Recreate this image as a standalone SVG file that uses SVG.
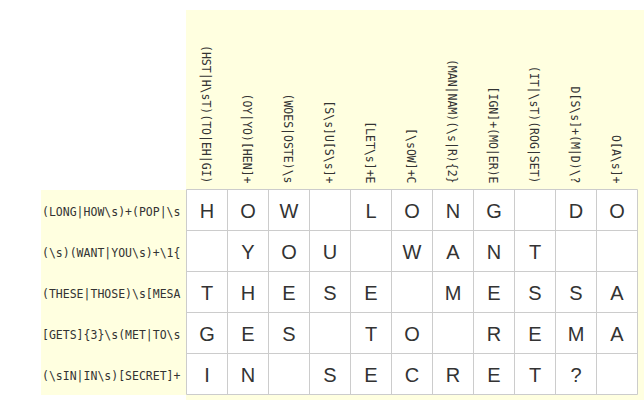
<svg xmlns="http://www.w3.org/2000/svg" width="644" height="400" viewBox="0 0 644 400">
<style>
.bg{fill:#ffffe0}
.cell{fill:#fff;stroke:#ccc;stroke-width:1}
.hd{font-family:"DejaVu Sans Mono","Liberation Mono",monospace;font-size:11.5px;fill:#333}
.ch{text-anchor:end}
.lt{font-family:"Liberation Sans",Arial,sans-serif;font-size:20px;fill:#333;text-anchor:middle}
</style>
<rect width="644" height="400" fill="#fff"/>
<rect class="bg" x="186" y="10" width="458" height="390"/>
<rect class="bg" x="41" y="190" width="145" height="205"/>
<g id="column-headers" class="hd ch">
<text transform="translate(201.5,183.5) rotate(90)">(HST|H\sT)(TO|EH|GI)</text>
<text transform="translate(242.5,183.5) rotate(90)">(OY|YO)[HEN]+</text>
<text transform="translate(283.5,183.5) rotate(90)">(WOES|OSTE)\s</text>
<text transform="translate(324.5,183.5) rotate(90)">[S\s]U[S\s]+</text>
<text transform="translate(365.5,183.5) rotate(90)">[LET\s]+E</text>
<text transform="translate(406.5,183.5) rotate(90)">[\sOW]+C</text>
<text transform="translate(447.5,183.5) rotate(90)">(MAN|NAM)(\s|R){2}</text>
<text transform="translate(488.5,183.5) rotate(90)">[IGN]+(MO|ER)E</text>
<text transform="translate(529.5,183.5) rotate(90)">(IT|\sT)(ROG|SET)</text>
<text transform="translate(570.5,183.5) rotate(90)">D[S\s]+(M|D)\?</text>
<text transform="translate(611.5,183.5) rotate(90)">O[A\s]+</text>
</g>
<g id="row-headers" class="hd">
<text x="42" y="215.5">(LONG|HOW\s)+(POP|\s</text>
<text x="42" y="256.5">(\s)(WANT|YOU\s)+\1{</text>
<text x="42" y="297.5">(THESE|THOSE)\s[MESA</text>
<text x="42" y="338.5">[GETS]{3}\s(MET|TO\s</text>
<text x="42" y="379.5">(\sIN|IN\s)[SECRET]+</text>
</g>
<g id="grid">
<path d="M186.5 189.5H637.5V394.5H186.5Z M186.5 230.5H637.5 M186.5 271.5H637.5 M186.5 312.5H637.5 M186.5 353.5H637.5" fill="#fff" stroke="#ccc"/>
<path d="M227.5 189.5V394.5 M268.5 189.5V394.5 M309.5 189.5V394.5 M350.5 189.5V394.5 M391.5 189.5V394.5 M432.5 189.5V394.5 M473.5 189.5V394.5 M514.5 189.5V394.5 M555.5 189.5V394.5 M596.5 189.5V394.5" fill="none" stroke="#ccc"/>
</g>
<g id="row-1" class="lt">
<text x="207" y="217.5">H</text><text x="248" y="217.5">O</text><text x="289" y="217.5">W</text><text x="371" y="217.5">L</text><text x="412" y="217.5">O</text><text x="453" y="217.5">N</text><text x="494" y="217.5">G</text><text x="576" y="217.5">D</text><text x="617" y="217.5">O</text>
</g>
<g id="row-2" class="lt">
<text x="248" y="258.5">Y</text><text x="289" y="258.5">O</text><text x="330" y="258.5">U</text><text x="412" y="258.5">W</text><text x="453" y="258.5">A</text><text x="494" y="258.5">N</text><text x="535" y="258.5">T</text>
</g>
<g id="row-3" class="lt">
<text x="207" y="299.5">T</text><text x="248" y="299.5">H</text><text x="289" y="299.5">E</text><text x="330" y="299.5">S</text><text x="371" y="299.5">E</text><text x="453" y="299.5">M</text><text x="494" y="299.5">E</text><text x="535" y="299.5">S</text><text x="576" y="299.5">S</text><text x="617" y="299.5">A</text>
</g>
<g id="row-4" class="lt">
<text x="207" y="340.5">G</text><text x="248" y="340.5">E</text><text x="289" y="340.5">S</text><text x="371" y="340.5">T</text><text x="412" y="340.5">O</text><text x="494" y="340.5">R</text><text x="535" y="340.5">E</text><text x="576" y="340.5">M</text><text x="617" y="340.5">A</text>
</g>
<g id="row-5" class="lt">
<text x="207" y="381.5">I</text><text x="248" y="381.5">N</text><text x="330" y="381.5">S</text><text x="371" y="381.5">E</text><text x="412" y="381.5">C</text><text x="453" y="381.5">R</text><text x="494" y="381.5">E</text><text x="535" y="381.5">T</text><text x="576" y="381.5">?</text>
</g>
</svg>
